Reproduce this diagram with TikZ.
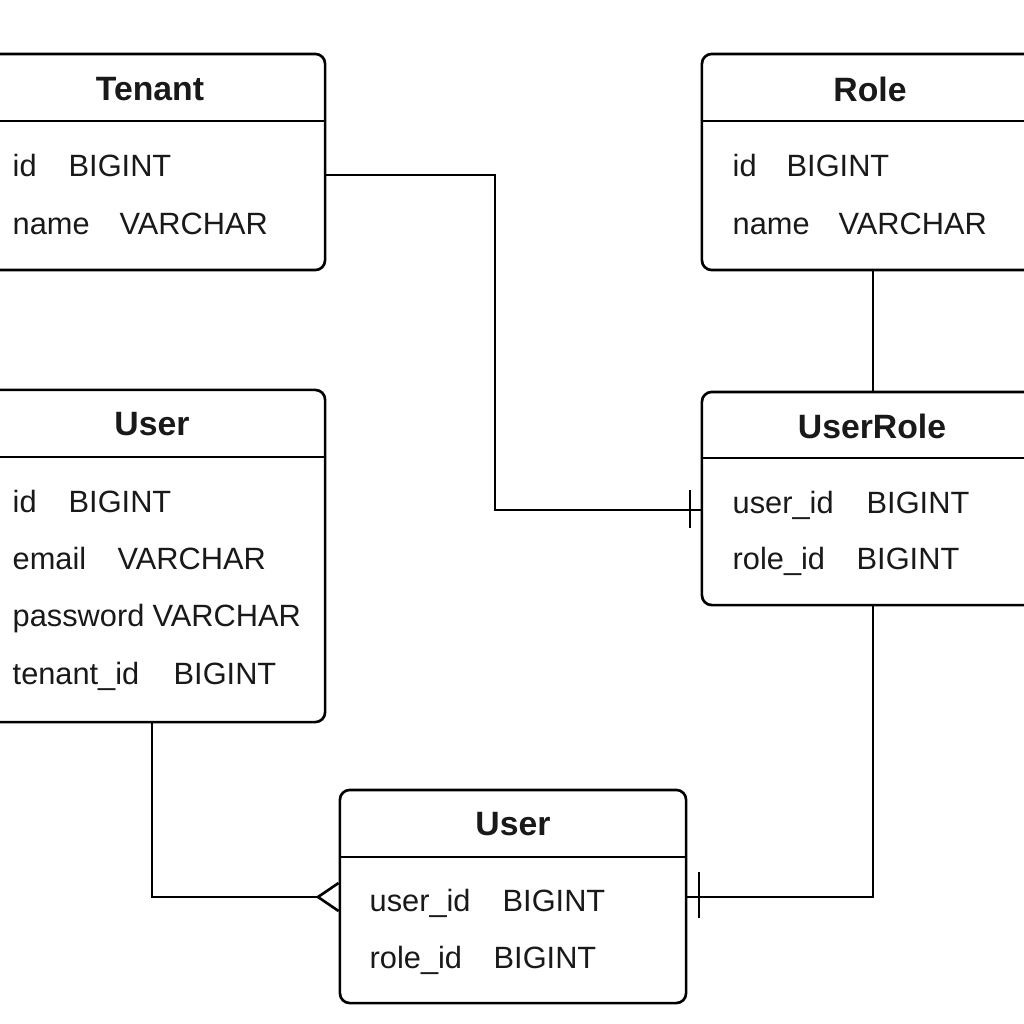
\documentclass[tikz,border=0pt]{standalone}
\usepackage{fontspec}
\setmainfont{Liberation Sans}
\begin{document}
\begin{tikzpicture}[x=0.01cm,y=-0.01cm,
  box/.style={draw=black,line width=0.75pt,rounded corners=2.8pt,inner sep=0pt,fill=white},
  ttl/.style={font=\fontsize{9.6}{11}\selectfont\bfseries,text=black!90,inner sep=0pt},
  fld/.style={font=\fontsize{8.75}{10}\selectfont,text=black!90,anchor=base west,inner sep=0pt},
  conn/.style={draw=black,line width=0.75pt}]
\useasboundingbox (0,0) rectangle (1024,1024);
\clip (0,0) rectangle (1024,1024);
\fill[white] (0,0) rectangle (1024,1024);

% boxes
\node[box,minimum width=3.45cm,minimum height=2.16cm] (tenant) at (152.5,162) {};
\node[box,minimum width=3.42cm,minimum height=2.16cm] (role) at (873,162) {};
\node[box,minimum width=3.45cm,minimum height=3.32cm] (user) at (152.5,556) {};
\node[box,minimum width=3.42cm,minimum height=2.13cm] (userrole) at (873,498.5) {};
\node[box,minimum width=3.46cm,minimum height=2.13cm] (user2) at (513,896.5) {};

% header lines
\draw[conn] (tenant.west |- 0,121) -- (tenant.east |- 0,121);
\draw[conn] (role.west |- 0,121) -- (role.east |- 0,121);
\draw[conn] (user.west |- 0,457) -- (user.east |- 0,457);
\draw[conn] (userrole.west |- 0,458) -- (userrole.east |- 0,458);
\draw[conn] (user2.west |- 0,857) -- (user2.east |- 0,857);

% titles
\node[ttl] (tTenant) at (150,89) {Tenant};
\node[ttl] (tRole) at (870,89) {Role};
\node[ttl] (tUser) at (152,424) {User};
\node[ttl] (tUserRole) at (872,426) {UserRole};
\node[ttl] (tUser2) at (513,824) {User};

% fields
\node[fld] (f1) at (12,176) {id};
\node[fld] (f2) at (68,176) {BIGINT};
\node[fld] (f3) at (12,234) {name};
\node[fld] (f4) at (119,234) {VARCHAR};

\node[fld] (f5) at (732,176) {id};
\node[fld] (f6) at (786,176) {BIGINT};
\node[fld] (f7) at (732,234) {name};
\node[fld] (f8) at (838,234) {VARCHAR};

\node[fld] (f9) at (12,512) {id};
\node[fld] (f10) at (68,512) {BIGINT};
\node[fld] (f11) at (12,569) {email};
\node[fld] (f12) at (117,569) {VARCHAR};
\node[fld] (f13) at (12,626) {password};
\node[fld] (f14) at (152,626) {VARCHAR};
\node[fld] (f15) at (12,684) {tenant\_id};
\node[fld] (f16) at (173,684) {BIGINT};

\node[fld] (f17) at (732,513) {user\_id};
\node[fld] (f18) at (866,513) {BIGINT};
\node[fld] (f19) at (732,569) {role\_id};
\node[fld] (f20) at (856,569) {BIGINT};

\node[fld] (f21) at (369,911) {user\_id};
\node[fld] (f22) at (502,911) {BIGINT};
\node[fld] (f23) at (369,968) {role\_id};
\node[fld] (f24) at (493,968) {BIGINT};

% connectors
\coordinate (c1) at (495,175);
\draw[conn] (tenant.east |- c1) -- (c1) |- (userrole.west |- 0,510);
\draw[conn] (690,490) -- (690,528);

\draw[conn] (role.south) -- (userrole.north);

\coordinate (c3) at (152,897);
\draw[conn] (user.south -| c3) -- (c3) -- (318,897);
\draw[conn] (user2.west |- 0,883) -- (318,897) -- (user2.west |- 0,911);

\coordinate (c4) at (873,897);
\draw[conn] (userrole.south) -- (c4) -- (user2.east |- c4);
\draw[conn] (699,872) -- (699,918);
\end{tikzpicture}
\end{document}
